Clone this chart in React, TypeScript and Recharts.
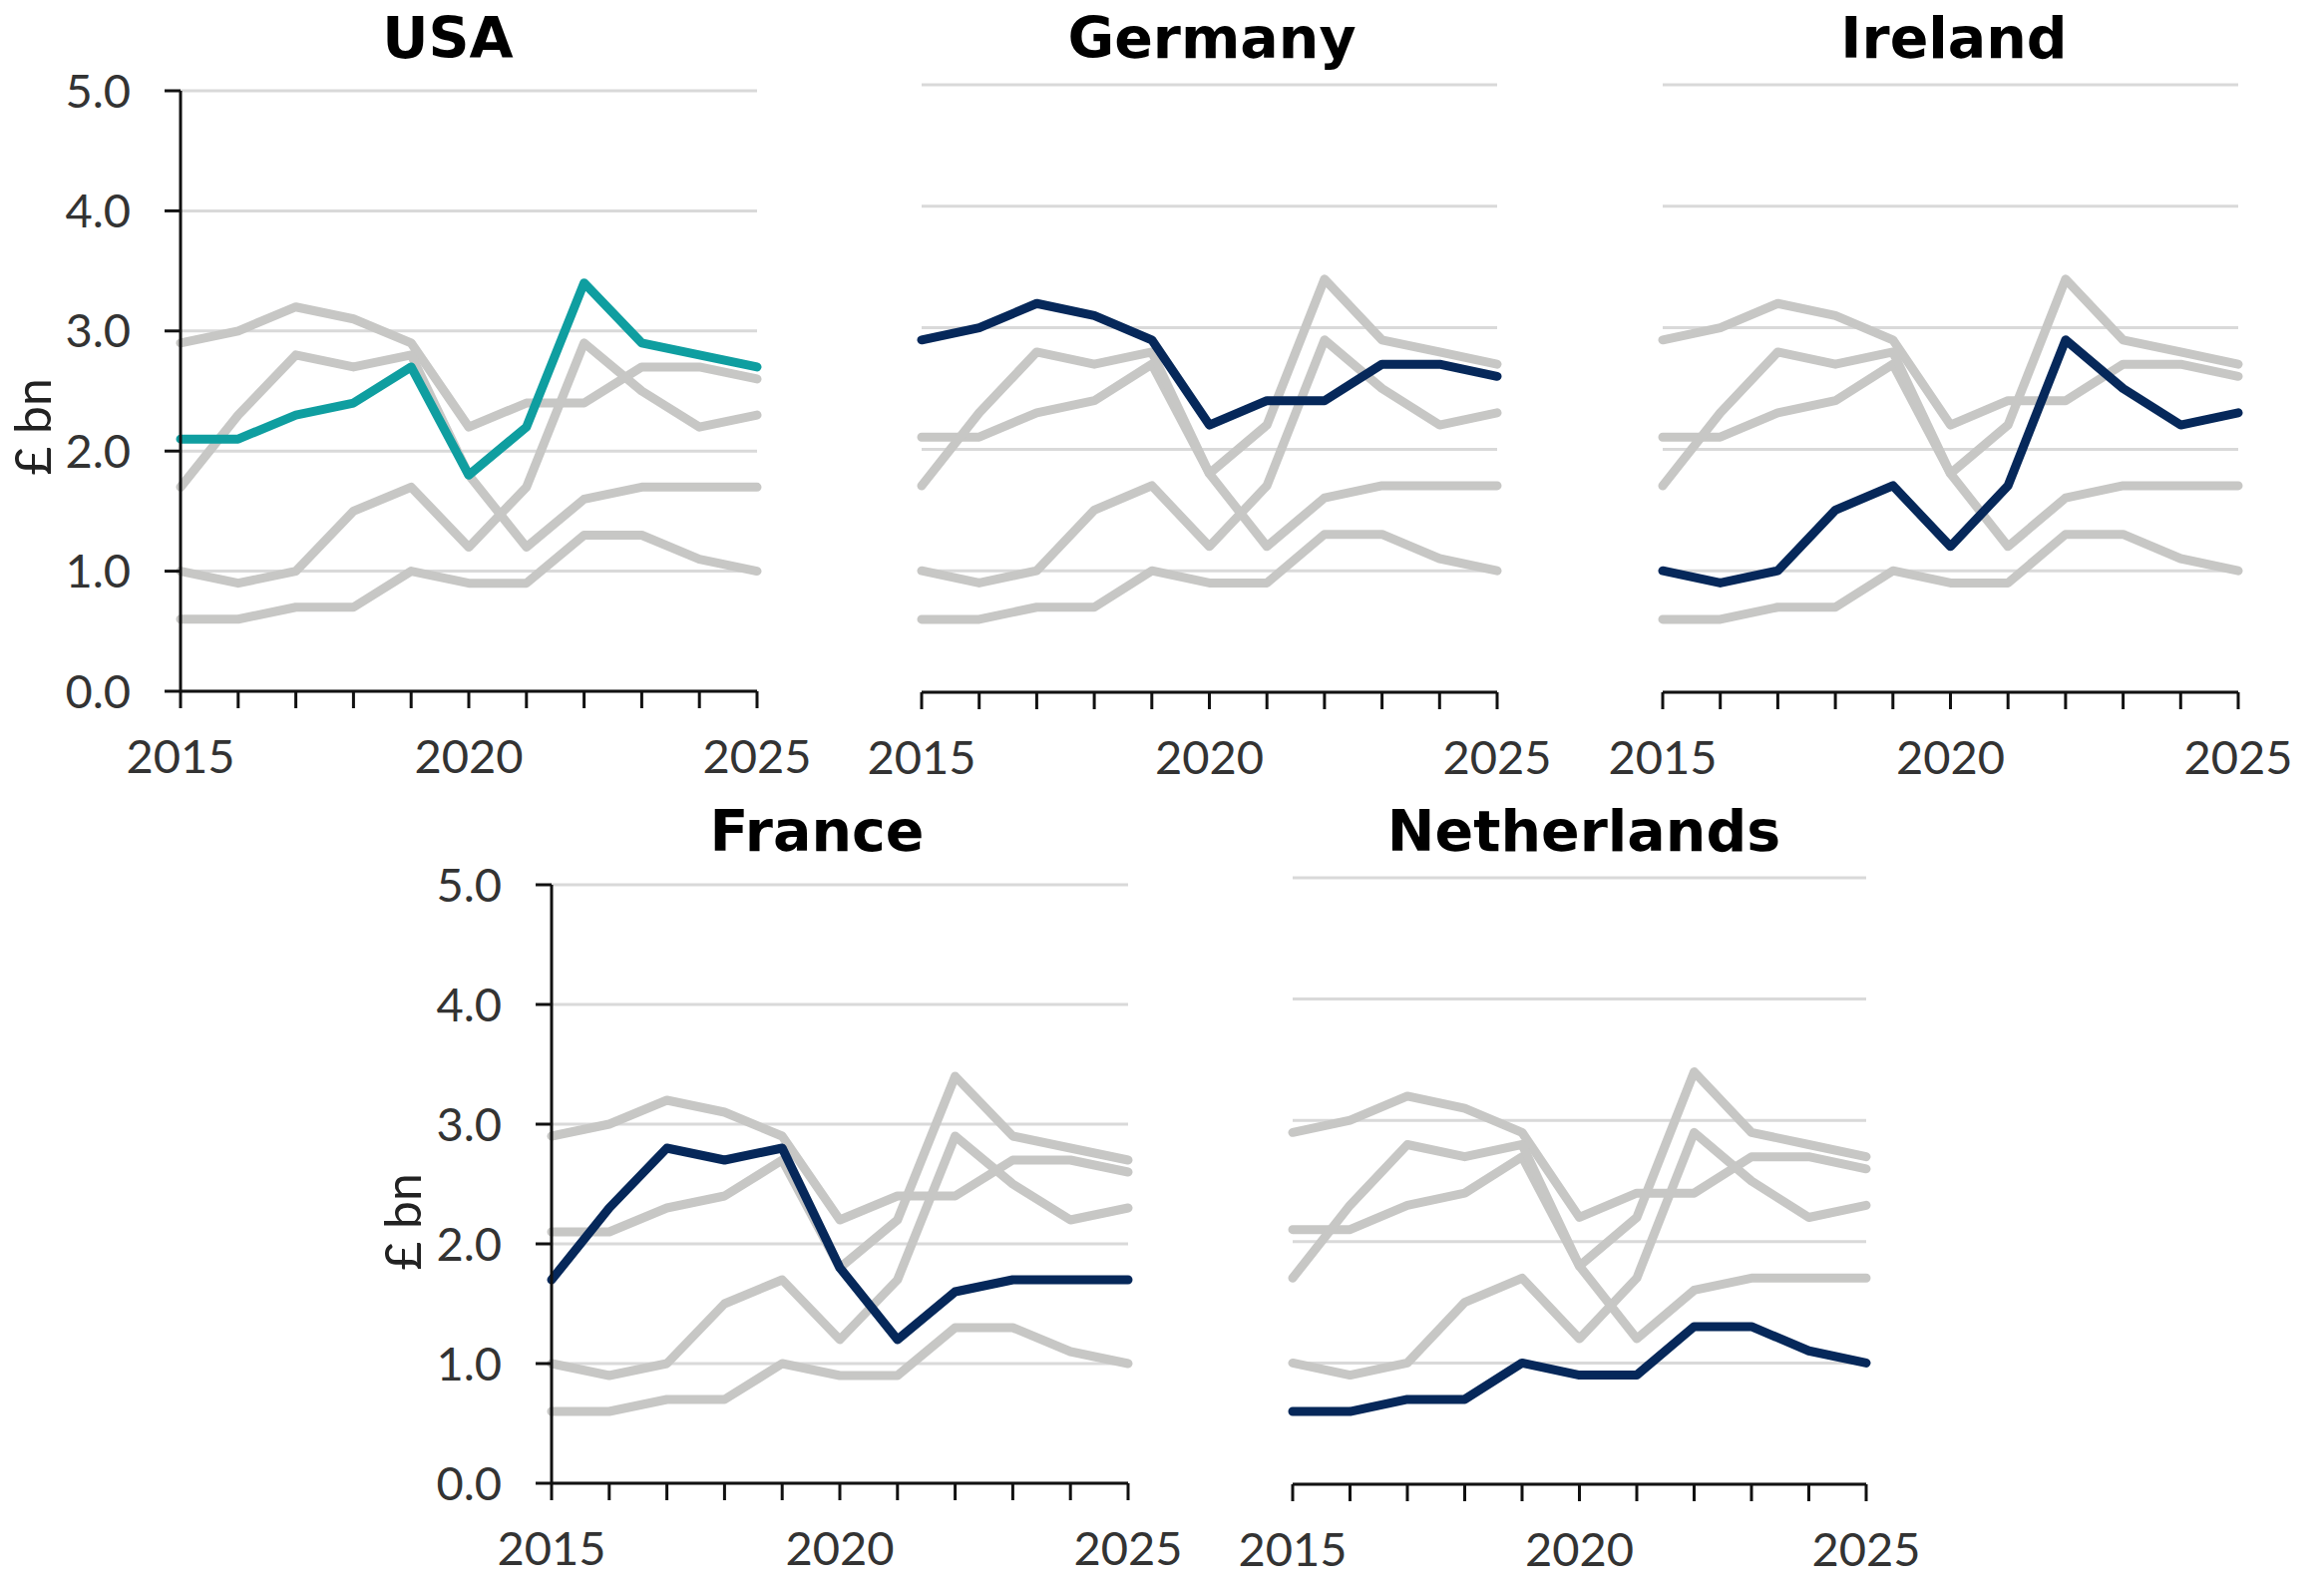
import React from 'react';
import { LineChart, Line, XAxis, YAxis, CartesianGrid } from 'recharts';

// Values in £ bn, 2015–2025
const years = [2015, 2016, 2017, 2018, 2019, 2020, 2021, 2022, 2023, 2024, 2025];
const usa = [2.1, 2.1, 2.3, 2.4, 2.7, 1.8, 2.2, 3.4, 2.9, 2.8, 2.7];
const germany = [2.9, 3.0, 3.2, 3.1, 2.9, 2.2, 2.4, 2.4, 2.7, 2.7, 2.6];
const ireland = [1.0, 0.9, 1.0, 1.5, 1.7, 1.2, 1.7, 2.9, 2.5, 2.2, 2.3];
const france = [1.7, 2.3, 2.8, 2.7, 2.8, 1.8, 1.2, 1.6, 1.7, 1.7, 1.7];
const netherlands = [0.6, 0.6, 0.7, 0.7, 1.0, 0.9, 0.9, 1.3, 1.3, 1.1, 1.0];

const yTicks = [0, 1, 2, 3, 4, 5];
const labelledYears = [2015, 2020, 2025];

const countries = ['USA', 'Germany', 'Ireland', 'France', 'Netherlands'];
const seriesByCountry: Record<string, number[]> = {
  USA: usa,
  Germany: germany,
  Ireland: ireland,
  France: france,
  Netherlands: netherlands,
};

const rows = years.map((year, i) => {
  const row: Record<string, number> = { year };
  countries.forEach((c) => {
    row[c] = seriesByCountry[c][i];
  });
  return row;
});

const GREY = '#c7c7c5';
const NAVY = '#06285a';
const TEAL = '#0f9ea0';
const TICK_FONT = 'Lato, "Open Sans", sans-serif';
const TITLE_FONT = '"DejaVu Sans", Verdana, sans-serif';

interface PanelProps {
  country: string;
  color: string;
  left: number;
  right: number;
  top: number;
  bottom: number;
  showYAxis: boolean;
}

const PAD_LEFT = 200;
const PAD_TOP = 40;
const PAD_RIGHT = 70;
const PAD_BOTTOM = 120;
const Y_AXIS_WIDTH = 170;
const X_AXIS_HEIGHT = 100;

const Panel = ({ country, color, left, right, top, bottom, showYAxis }: PanelProps) => {
  const plotW = right - left;
  const plotH = bottom - top;
  const others = countries.filter((c) => c !== country);

  return (
    <div style={{ position: 'absolute', left: left - PAD_LEFT, top: top - PAD_TOP }}>
      <LineChart
        width={PAD_LEFT + plotW + PAD_RIGHT}
        height={PAD_TOP + plotH + PAD_BOTTOM}
        data={rows}
        margin={{
          top: PAD_TOP,
          right: PAD_RIGHT,
          bottom: PAD_BOTTOM - X_AXIS_HEIGHT,
          left: showYAxis ? PAD_LEFT - Y_AXIS_WIDTH : PAD_LEFT,
        }}
      >
        <CartesianGrid
          vertical={false}
          horizontalValues={yTicks}
          stroke="#d9d9d9"
          strokeWidth={3}
        />
        <XAxis
          dataKey="year"
          type="number"
          domain={[2015, 2025]}
          ticks={years}
          interval={0}
          height={X_AXIS_HEIGHT}
          tickFormatter={(v: number) => (labelledYears.includes(v) ? String(v) : '')}
          axisLine={{ stroke: '#111', strokeWidth: 3 }}
          tickLine={{ stroke: '#111', strokeWidth: 3 }}
          tickSize={17}
          tickMargin={32}
          tick={{ fill: '#333', fontSize: 47, fontFamily: TICK_FONT, fontWeight: 400 }}
        />
        <YAxis
          type="number"
          domain={[0, 5]}
          ticks={yTicks}
          interval={0}
          hide={!showYAxis}
          width={Y_AXIS_WIDTH}
          tickFormatter={(v: number) => v.toFixed(1)}
          axisLine={{ stroke: '#111', strokeWidth: 3 }}
          tickLine={{ stroke: '#111', strokeWidth: 3 }}
          tickSize={16}
          tickMargin={34}
          tick={{ fill: '#333', fontSize: 47, fontFamily: TICK_FONT, fontWeight: 400 }}
        />
        {others.map((c) => (
          <Line
            key={c}
            type="linear"
            dataKey={c}
            stroke={GREY}
            strokeWidth={9}
            strokeLinecap="round"
            strokeLinejoin="round"
            dot={false}
            activeDot={false}
            isAnimationActive={false}
          />
        ))}
        <Line
          type="linear"
          dataKey={country}
          stroke={color}
          strokeWidth={9}
          strokeLinecap="round"
          strokeLinejoin="round"
          dot={false}
          activeDot={false}
          isAnimationActive={false}
        />
      </LineChart>
    </div>
  );
};

const titles = [
  { text: 'USA', x: 449, y: 58 },
  { text: 'Germany', x: 1215, y: 58 },
  { text: 'Ireland', x: 1959, y: 58 },
  { text: 'France', x: 819, y: 853 },
  { text: 'Netherlands', x: 1588, y: 853 },
];

const unitLabels = [
  { x: 32, y: 428 },
  { x: 403, y: 1225 },
];

const App = () => (
  <div style={{ position: 'absolute', left: 0, top: 0, width: 2330, height: 1590, background: '#fff' }}>
    <Panel country="USA" color={TEAL} left={181} right={759} top={91} bottom={693} showYAxis />
    <Panel country="Germany" color={NAVY} left={924} right={1501} top={85} bottom={694} showYAxis={false} />
    <Panel country="Ireland" color={NAVY} left={1667} right={2244} top={85} bottom={694} showYAxis={false} />
    <Panel country="France" color={NAVY} left={553} right={1131} top={887} bottom={1487} showYAxis />
    <Panel country="Netherlands" color={NAVY} left={1296} right={1871} top={880} bottom={1488} showYAxis={false} />
    <svg
      width={2330}
      height={1590}
      style={{ position: 'absolute', left: 0, top: 0, pointerEvents: 'none' }}
    >
      {titles.map((t) => (
        <text
          key={t.text}
          x={t.x}
          y={t.y}
          textAnchor="middle"
          fontFamily={TITLE_FONT}
          fontWeight={700}
          fontSize={57}
          fill="#000"
        >
          {t.text}
        </text>
      ))}
      {unitLabels.map((l, i) => (
        <text
          key={i}
          x={l.x}
          y={l.y}
          transform={`rotate(-90 ${l.x} ${l.y})`}
          textAnchor="middle"
          dominantBaseline="central"
          fontFamily={TICK_FONT}
          fontWeight={400}
          fontSize={50}
          fill="#222"
        >
          £ bn
        </text>
      ))}
    </svg>
  </div>
);

export default App;
